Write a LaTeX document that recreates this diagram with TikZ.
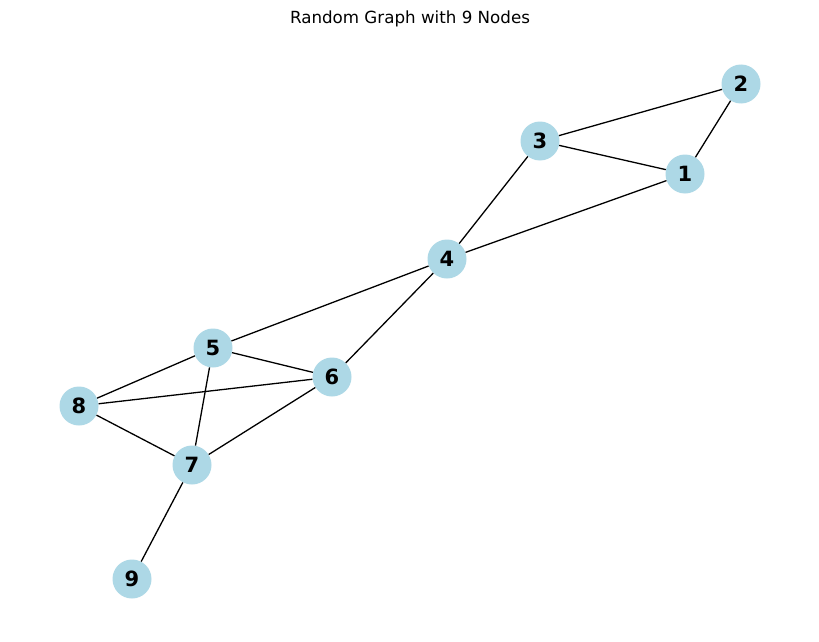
\documentclass[tikz,border=0pt]{standalone}
\usepackage{fontspec}
\setmainfont{DejaVu Sans}
\newfontfamily\nodefont{DejaVu Sans}
\begin{document}
\begin{tikzpicture}[x=1pt,y=-1pt,
  vertex/.style={circle,fill=nodeblue,draw=none,minimum size=39pt,inner sep=0pt,
    font=\nodefont\bfseries\fontsize{21}{21}\selectfont},
  edge/.style={draw=black,line width=1.3pt}]
\definecolor{nodeblue}{HTML}{ADD8E6}
\useasboundingbox[fill=white] (0,0) rectangle (819,642);
\node[font=\fontsize{16.7}{16.7}\selectfont,anchor=base] (title) at (410,24) {Random Graph with 9 Nodes};
\node[vertex] (n1) at (685,174) {1};
\node[vertex] (n2) at (741,84) {2};
\node[vertex] (n3) at (540,141) {3};
\node[vertex] (n4) at (447,259) {4};
\node[vertex] (n5) at (213,348) {5};
\node[vertex] (n6) at (332,377) {6};
\node[vertex] (n7) at (192,465) {7};
\node[vertex] (n8) at (79,406) {8};
\node[vertex] (n9) at (132,579) {9};
\begin{scope}[on background layer/.style={}]
\end{scope}
\foreach \a/\b in {n2/n3,n2/n1,n3/n1,n3/n4,n1/n4,n4/n5,n4/n6,n5/n6,n5/n8,n5/n7,n8/n6,n8/n7,n7/n6,n7/n9}
  \draw[edge] (\a) -- (\b);
\end{tikzpicture}
\end{document}
